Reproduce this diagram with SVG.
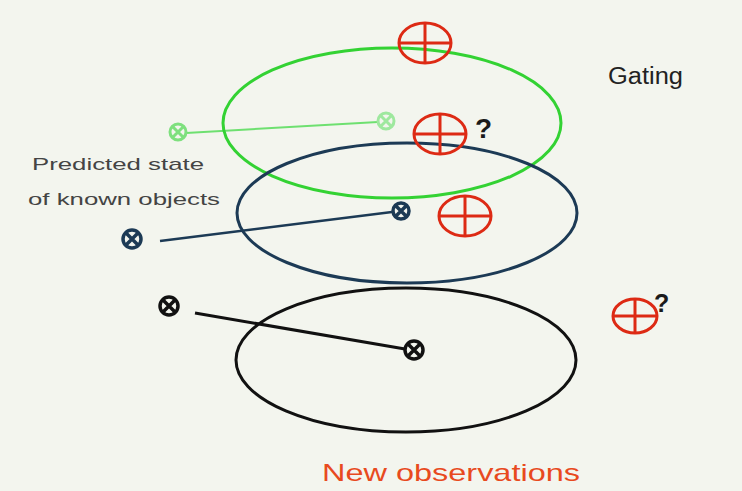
<svg xmlns="http://www.w3.org/2000/svg" width="742" height="491" viewBox="0 0 742 491">
<defs>
<style>
.bg{fill:#f3f5ee}
.gate{fill:none;stroke-width:3}
.obs{fill:none;stroke:#dd2a14;stroke-width:3}
.lbl{font-family:"Liberation Sans",Arial,sans-serif}
.q{font-family:"Liberation Sans",Arial,sans-serif;font-weight:bold;fill:#1a1a1a}
</style>
<g id="obsSym"><ellipse class="obs" cx="0" cy="0" rx="26" ry="20"/><line class="obs" x1="-26" y1="0" x2="26" y2="0"/><line class="obs" x1="0" y1="-20" x2="0" y2="20"/></g>
<g id="obsSymS"><ellipse class="obs" cx="0" cy="0" rx="22" ry="17"/><line class="obs" x1="-22" y1="0" x2="22" y2="0"/><line class="obs" x1="0" y1="-17" x2="0" y2="17"/></g>
</defs>
<rect class="bg" x="0" y="0" width="742" height="491"/>
<g id="connectors">
<line x1="186" y1="133" x2="378" y2="122" stroke="#6ee070" stroke-width="2"/>
<line x1="160" y1="241" x2="392" y2="212" stroke="#1c3a55" stroke-width="2.5"/>
<line x1="195" y1="313" x2="405" y2="349" stroke="#111" stroke-width="3"/>
</g>
<g id="green-gate"><ellipse class="gate" stroke="#33d233" cx="392" cy="123" rx="169" ry="75"/></g>
<g id="blue-gate"><ellipse class="gate" stroke="#1c3a55" cx="407" cy="213" rx="170" ry="70"/></g>
<g id="black-gate"><ellipse class="gate" stroke="#111" cx="406" cy="360" rx="170" ry="72"/></g>
<g id="green-prev"><circle cx="178" cy="132" r="8" fill="#f3f5ee" stroke="#7ee07e" stroke-width="3"/><path d="M172.5 126.5L183.5 137.5M183.5 126.5L172.5 137.5" stroke="#7ee07e" stroke-width="3"/></g>
<g id="green-pred"><circle cx="386" cy="121" r="8" fill="#f3f5ee" stroke="#9ee89e" stroke-width="3"/><path d="M380.5 115.5L391.5 126.5M391.5 115.5L380.5 126.5" stroke="#9ee89e" stroke-width="3"/></g>
<g id="blue-prev"><circle cx="132" cy="239" r="9" fill="#f3f5ee" stroke="#1c3a55" stroke-width="3.5"/><path d="M126 233L138 245M138 233L126 245" stroke="#1c3a55" stroke-width="3.5"/></g>
<g id="blue-pred"><circle cx="401" cy="211" r="8" fill="#f3f5ee" stroke="#1c3a55" stroke-width="3.5"/><path d="M395.5 205.5L406.5 216.5M406.5 205.5L395.5 216.5" stroke="#1c3a55" stroke-width="3.5"/></g>
<g id="black-prev"><circle cx="169" cy="306" r="9" fill="#f3f5ee" stroke="#111" stroke-width="3.5"/><path d="M163 300L175 312M175 300L163 312" stroke="#111" stroke-width="3.5"/></g>
<g id="black-pred"><circle cx="414" cy="350" r="9" fill="#f3f5ee" stroke="#111" stroke-width="3.5"/><path d="M408 344L420 356M420 344L408 356" stroke="#111" stroke-width="3.5"/></g>
<g id="obs1"><use href="#obsSym" x="425" y="43"/></g>
<g id="obs2"><use href="#obsSym" x="440" y="134"/><text class="q" x="475" y="138" font-size="28">?</text></g>
<g id="obs3"><use href="#obsSym" x="465" y="216"/></g>
<g id="obs4"><use href="#obsSymS" x="635" y="316"/><text class="q" x="654" y="312" font-size="25">?</text></g>
<text class="lbl" x="608" y="84" font-size="23" fill="#222" textLength="75" lengthAdjust="spacingAndGlyphs">Gating</text>
<text class="lbl" x="32" y="170" font-size="17" fill="#444" textLength="172" lengthAdjust="spacingAndGlyphs">Predicted state</text>
<text class="lbl" x="28" y="205" font-size="17" fill="#444" textLength="192" lengthAdjust="spacingAndGlyphs">of known objects</text>
<text class="lbl" x="322" y="481" font-size="24" fill="#e84a1e" textLength="258" lengthAdjust="spacingAndGlyphs">New observations</text>
</svg>
